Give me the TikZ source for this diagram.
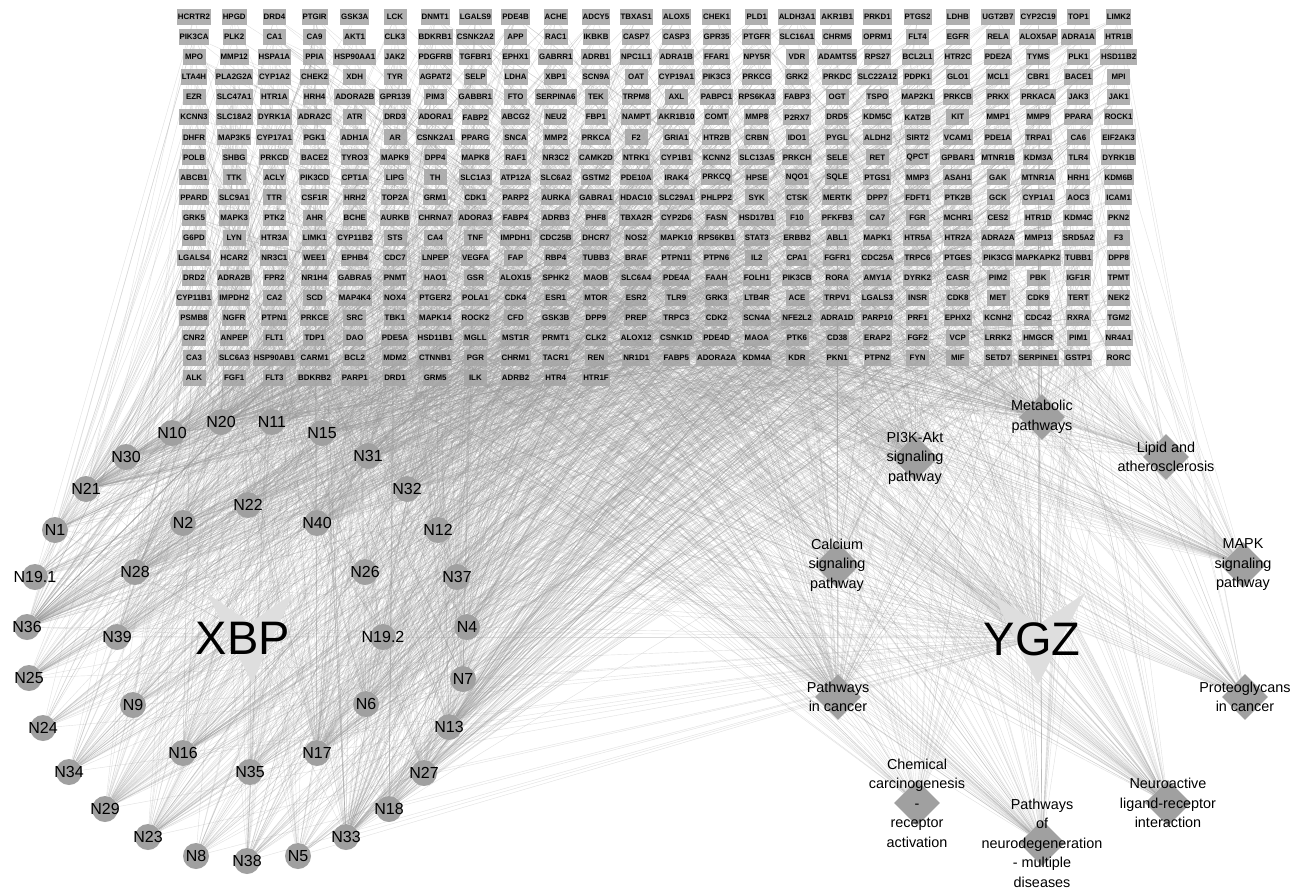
\documentclass[tikz,border=0pt]{standalone}
\usepackage{fontspec}
\setmainfont{Liberation Sans}
\usetikzlibrary{shapes.geometric}
\pgfdeclarelayer{bgzero}
\pgfdeclarelayer{edges}
\pgfsetlayers{bgzero,edges,main}
\definecolor{genegray}{RGB}{166,166,166}
\definecolor{nodegray}{RGB}{160,160,160}
\definecolor{vgray}{RGB}{222,222,222}
\tikzset{
  gene/.style={rectangle, fill=genegray, fill opacity=0.88, text opacity=1, minimum width=23pt, minimum height=16pt, inner xsep=1pt, inner ysep=0pt, font=\bfseries\fontsize{7.9}{8}\selectfont, text=black},
  cnode/.style={circle, fill=nodegray, minimum size=26pt, inner sep=0pt},
  clabel/.style={font=\fontsize{16}{16}\selectfont, inner sep=0pt},
  pnode/.style={diamond, fill=nodegray, minimum width=46pt, minimum height=46pt, inner sep=0pt},
  plabel/.style={font=\fontsize{14.4}{19.5}\selectfont, align=center, inner sep=0pt},
  herbshape/.style={fill=vgray},
  herblabel/.style={font=\fontsize{47}{47}\selectfont, inner sep=0pt, anchor=base},
  edge/.style={draw=black!40, line width=0.4pt, opacity=0.3},
}
\begin{document}
\begin{tikzpicture}[x=1pt,y=-1pt]
\begin{pgfonlayer}{bgzero}
\fill[white] (0,0) rectangle (1290,891);
\end{pgfonlayer}
\useasboundingbox (0,0) rectangle (1290,891);

% gene grid
\foreach \row [count=\j from 0] in {{HCRTR2,HPGD,DRD4,PTGIR,GSK3A,LCK,DNMT1,LGALS9,PDE4B,ACHE,ADCY5,TBXAS1,ALOX5,CHEK1,PLD1,ALDH3A1,AKR1B1,PRKD1,PTGS2,LDHB,UGT2B7,CYP2C19,TOP1,LIMK2},
{PIK3CA,PLK2,CA1,CA9,AKT1,CLK3,BDKRB1,CSNK2A2,APP,RAC1,IKBKB,CASP7,CASP3,GPR35,PTGFR,SLC16A1,CHRM5,OPRM1,FLT4,EGFR,RELA,ALOX5AP,ADRA1A,HTR1B},
{MPO,MMP12,HSPA1A,PPIA,HSP90AA1,JAK2,PDGFRB,TGFBR1,EPHX1,GABRR1,ADRB1,NPC1L1,ADRA1B,FFAR1,NPY5R,VDR,ADAMTS5,RPS27,BCL2L1,HTR2C,PDE2A,TYMS,PLK1,HSD11B2},
{LTA4H,PLA2G2A,CYP1A2,CHEK2,XDH,TYR,AGPAT2,SELP,LDHA,XBP1,SCN9A,OAT,CYP19A1,PIK3C3,PRKCG,GRK2,PRKDC,SLC22A12,PDPK1,GLO1,MCL1,CBR1,BACE1,MPI},
{EZR,SLC47A1,HTR1A,HRH4,ADORA2B,GPR139,PIM3,GABBR1,FTO,SERPINA6,TEK,TRPM8,AXL,PABPC1,RPS6KA3,FABP3,OGT,TSPO,MAP2K1,PRKCB,PRKX,PRKACA,JAK3,JAK1},
{KCNN3,SLC18A2,DYRK1A,ADRA2C,ATR,DRD3,ADORA1,FABP2,ABCG2,NEU2,FBP1,NAMPT,AKR1B10,COMT,MMP8,P2RX7,DRD5,KDM5C,KAT2B,KIT,MMP1,MMP9,PPARA,ROCK1},
{DHFR,MAP3K5,CYP17A1,PGK1,ADH1A,AR,CSNK2A1,PPARG,SNCA,MMP2,PRKCA,F2,GRIA1,HTR2B,CRBN,IDO1,PYGL,ALDH2,SIRT2,VCAM1,PDE1A,TRPA1,CA6,EIF2AK3},
{POLB,SHBG,PRKCD,BACE2,TYRO3,MAPK9,DPP4,MAPK8,RAF1,NR3C2,CAMK2D,NTRK1,CYP1B1,KCNN2,SLC13A5,PRKCH,SELE,RET,QPCT,GPBAR1,MTNR1B,KDM3A,TLR4,DYRK1B},
{ABCB1,TTK,ACLY,PIK3CD,CPT1A,LIPG,TH,SLC1A3,ATP12A,SLC6A2,GSTM2,PDE10A,IRAK4,PRKCQ,HPSE,NQO1,SQLE,PTGS1,MMP3,ASAH1,GAK,MTNR1A,HRH1,KDM6B},
{PPARD,SLC9A1,TTR,CSF1R,HRH2,TOP2A,GRM1,CDK1,PARP2,AURKA,GABRA1,HDAC10,SLC29A1,PHLPP2,SYK,CTSK,MERTK,DPP7,FDFT1,PTK2B,GCK,CYP1A1,AOC3,ICAM1},
{GRK5,MAPK3,PTK2,AHR,BCHE,AURKB,CHRNA7,ADORA3,FABP4,ADRB3,PHF8,TBXA2R,CYP2D6,FASN,HSD17B1,F10,PFKFB3,CA7,FGR,MCHR1,CES2,HTR1D,KDM4C,PKN2},
{G6PD,LYN,HTR3A,LIMK1,CYP11B2,STS,CA4,TNF,IMPDH1,CDC25B,DHCR7,NOS2,MAPK10,RPS6KB1,STAT3,ERBB2,ABL1,MAPK1,HTR5A,HTR2A,ADRA2A,MMP13,SRD5A2,F3},
{LGALS4,HCAR2,NR3C1,WEE1,EPHB4,CDC7,LNPEP,VEGFA,FAP,RBP4,TUBB3,BRAF,PTPN11,PTPN6,IL2,CPA1,FGFR1,CDC25A,TRPC6,PTGES,PIK3CG,MAPKAPK2,TUBB1,DPP8},
{DRD2,ADRA2B,FPR2,NR1H4,GABRA5,PNMT,HAO1,GSR,ALOX15,SPHK2,MAOB,SLC6A4,PDE4A,FAAH,FOLH1,PIK3CB,RORA,AMY1A,DYRK2,CASR,PIM2,PBK,IGF1R,TPMT},
{CYP11B1,IMPDH2,CA2,SCD,MAP4K4,NOX4,PTGER2,POLA1,CDK4,ESR1,MTOR,ESR2,TLR9,GRK3,LTB4R,ACE,TRPV1,LGALS3,INSR,CDK8,MET,CDK9,TERT,NEK2},
{PSMB8,NGFR,PTPN1,PRKCE,SRC,TBK1,MAPK14,ROCK2,CFD,GSK3B,DPP9,PREP,TRPC3,CDK2,SCN4A,NFE2L2,ADRA1D,PARP10,PRF1,EPHX2,KCNH2,CDC42,RXRA,TGM2},
{CNR2,ANPEP,FLT1,TDP1,DAO,PDE5A,HSD11B1,MGLL,MST1R,PRMT1,CLK2,ALOX12,CSNK1D,PDE4D,MAOA,PTK6,CD38,ERAP2,FGF2,VCP,LRRK2,HMGCR,PIM1,NR4A1},
{CA3,SLC6A3,HSP90AB1,CARM1,BCL2,MDM2,CTNNB1,PGR,CHRM1,TACR1,REN,NR1D1,FABP5,ADORA2A,KDM4A,KDR,PKN1,PTPN2,FYN,MIF,SETD7,SERPINE1,GSTP1,RORC},
{ALK,FGF1,FLT3,BDKRB2,PARP1,DRD1,GRM5,ILK,ADRB2,HTR4,HTR1F}}{%
  \foreach \g [count=\i from 0] in \row {%
    \pgfmathtruncatemacro\gn{24*\j+\i}%
    \node[gene] (g\gn) at ({194+40.2*\i},{17+20.05*\j}) {\g};%
  }%
}

% herb V shapes
\fill[herbshape] (207,593) -- (250,623) -- (293,593) -- (252,683) -- cycle;
\fill[herbshape] (993,595) -- (1039,624) -- (1085,593) -- (1038,685) -- cycle;
\coordinate (XBP) at (250,636);
\coordinate (YGZ) at (1039,638);
\node[herblabel] (XBPt) at (243,654) {XBP};
\node[herblabel] (YGZt) at (1032,655) {YGZ};

% compound nodes
\foreach \nm/\lab/\x/\y in {
n1/N1/55/530, n2/N2/183/523, n4/N4/467/627, n5/N5/298/856, n6/N6/366/704,
n7/N7/463/679, n8/N8/196/856, n9/N9/133/705, n10/N10/172/433, n11/N11/272/422,
n12/N12/438/530, n13/N13/449/727, n15/N15/322/433, n16/N16/183/753, n17/N17/317/753,
n18/N18/389/809, n19a/N19.1/35/577, n19b/N19.2/383/637, n20/N20/221/422, n21/N21/86/489,
n22/N22/248/505, n23/N23/148/837, n24/N24/43/728, n25/N25/29/678, n26/N26/365/572,
n27/N27/424/773, n28/N28/135/572, n29/N29/105/809, n30/N30/126/457, n31/N31/368/456,
n32/N32/407/489, n33/N33/346/837, n34/N34/69/772, n35/N35/250/772, n36/N36/27/627,
n37/N37/457/577, n38/N38/247/861, n39/N39/117/637, n40/N40/317/523}{
  \node[cnode] (\nm) at (\x,\y) {};
  \node[clabel] (\nm t) at (\x,\y) {\lab};
}

% pathway nodes
\node[pnode] (pm) at (1042,417) {};
\node[plabel] (pmt) at (1042,417) {Metabolic\\pathways};
\node[pnode] (ppi) at (915,458) {};
\node[plabel] (ppit) at (915,458) {PI3K-Akt\\signaling\\pathway};
\node[pnode] (pl) at (1166,457) {};
\node[plabel] (plt) at (1166,457) {Lipid and\\atherosclerosis};
\node[pnode] (pc) at (837,565) {};
\node[plabel] (pct) at (837,565) {Calcium\\signaling\\pathway};
\node[pnode] (pmk) at (1243,565) {};
\node[plabel] (pmkt) at (1243,565) {MAPK\\signaling\\pathway};
\node[pnode] (pca) at (838,697) {};
\node[plabel] (pcat) at (838,697) {Pathways\\in cancer};
\node[pnode] (ppg) at (1245,697) {};
\node[plabel] (ppgt) at (1245,697) {Proteoglycans\\in cancer};
\node[pnode] (pch) at (917,803) {};
\node[plabel] (pcht) at (917,803) {Chemical\\carcinogenesis\\-\\receptor\\activation};
\node[pnode] (pnd) at (1042,843) {};
\node[plabel] (pndt) at (1042,843) {Pathways\\of\\neurodegeneration\\- multiple\\diseases};
\node[pnode] (pna) at (1168,803) {};
\node[plabel] (pnat) at (1168,803) {Neuroactive\\ligand-receptor\\interaction};

% edges
\begin{pgfonlayer}{edges}
\pgfmathsetseed{4711}
\foreach \nm/\k in {n1/40, n2/40, n4/30, n5/30, n6/50, n7/40, n8/24, n9/30, n10/40, n11/50,
  n12/40, n13/80, n15/50, n16/50, n17/90, n18/50, n19a/30, n19b/30, n20/80, n21/100,
  n22/40, n23/50, n24/24, n25/40, n26/30, n27/50, n28/60, n29/50, n30/50, n31/60,
  n32/60, n33/90, n34/40, n35/30, n36/100, n37/40, n38/40, n39/50, n40/60,
  pm/90, ppi/75, pl/60, pc/50, pmk/70, pca/90, ppg/55, pch/45, pnd/70, pna/75, YGZ/100}{
  \foreach \t in {1,...,\k}{
    \pgfmathrandominteger{\gidx}{0}{442}
    \draw[edge] (\nm) -- (g\gidx);
  }
}
\foreach \nm in {n1,n2,n4,n5,n6,n7,n8,n9,n10,n11,n12,n13,n15,n16,n17,n18,n19a,n19b,n20,n21,
  n22,n23,n24,n25,n26,n27,n28,n29,n30,n31,n32,n33,n34,n35,n36,n37,n38,n39,n40}{
  \draw[edge] (\nm) -- (XBP);
  \draw[edge] (\nm) -- (YGZ);
}
\end{pgfonlayer}
\end{tikzpicture}
\end{document}
